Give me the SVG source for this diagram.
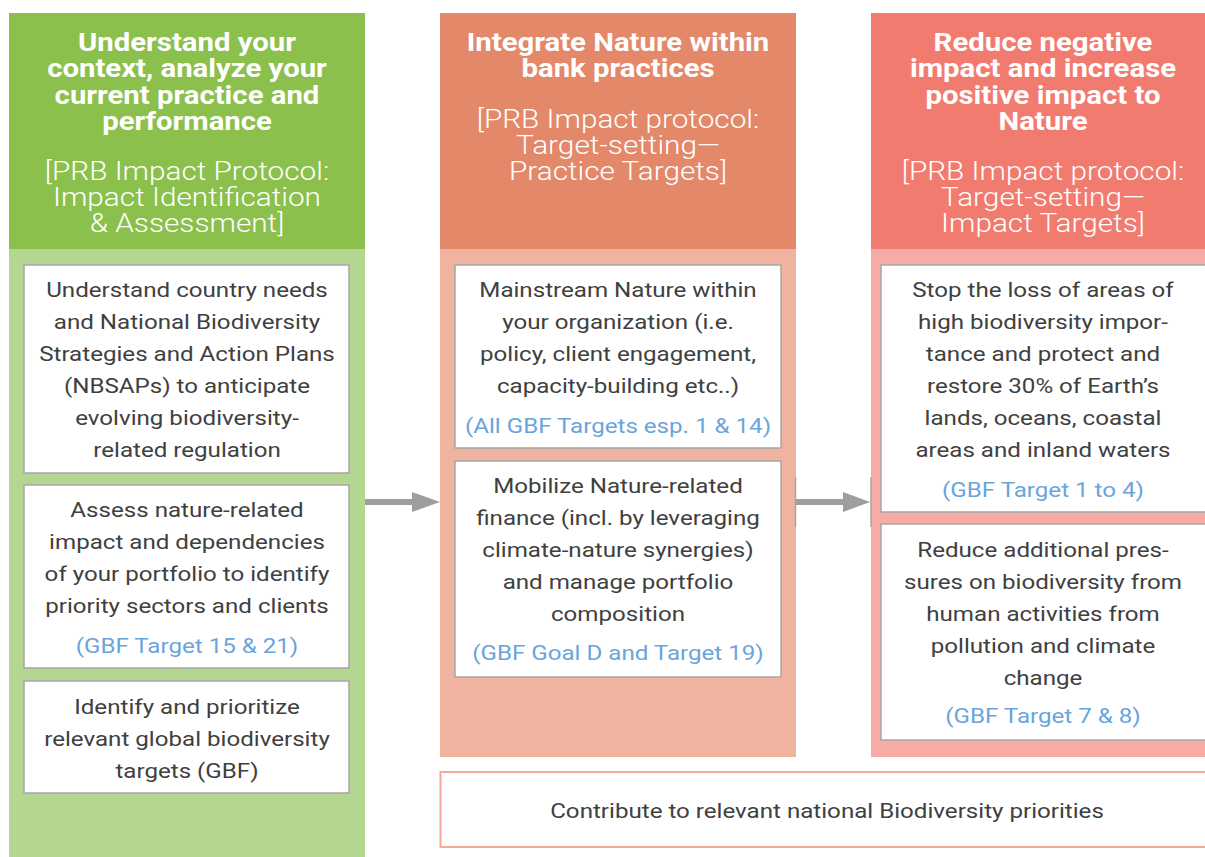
<svg xmlns="http://www.w3.org/2000/svg" width="1205" height="857" viewBox="0 0 1205 857">
  <defs>
    <style>
      .title { font-family: Roboto, "Liberation Sans", sans-serif; font-weight: 700; font-size: 25.5px; fill: #ffffff; text-anchor: middle; }
      .proto { font-family: Roboto, "Liberation Sans", sans-serif; font-weight: 300; font-size: 25px; fill: #ffffff; text-anchor: middle; }
      .body { font-family: Roboto, "Liberation Sans", sans-serif; font-weight: 400; font-size: 21px; fill: #404040; text-anchor: middle; }
      .ref { font-family: Roboto, "Liberation Sans", sans-serif; font-weight: 400; font-size: 21px; fill: #6aa4dc; text-anchor: middle; }
      .card { fill: #ffffff; stroke: #a6a6a6; stroke-width: 1.5; }
      .shaft { stroke: #9e9e9e; stroke-width: 6; fill: none; }
      .head { fill: #9e9e9e; }
      .tick { stroke: #a6a6a6; stroke-width: 1.5; }
    </style>
  </defs>

  <rect x="0" y="0" width="1205" height="857" fill="#ffffff"/>

  <!-- Column 1: context and analysis -->
  <g id="col-understand">
    <rect x="9" y="249" width="356" height="608" fill="#b5d690"/>
    <rect x="9" y="13" width="356" height="236" fill="#8bc04c"/>
    <g transform="translate(187 0) scale(1.15 1)">
      <text class="title" x="0" y="51">Understand your</text>
      <text class="title" x="0" y="77">context, analyze your</text>
      <text class="title" x="0" y="104">current practice and</text>
      <text class="title" x="0" y="130">performance</text>
    </g>
    <g transform="translate(187 0) scale(1.19 1)">
      <text class="proto" x="0" y="180">[PRB Impact Protocol:</text>
      <text class="proto" x="0" y="206">Impact Identification</text>
      <text class="proto" x="0" y="232">&amp; Assessment]</text>
    </g>
  </g>

  <g id="node-country-needs">
    <rect class="card" x="24" y="265" width="325" height="208"/>
    <g transform="translate(187 0) scale(1.15 1)">
      <text class="body" x="0" y="297">Understand country needs</text>
      <text class="body" x="0" y="329">and National Biodiversity</text>
      <text class="body" x="0" y="361">Strategies and Action Plans</text>
      <text class="body" x="0" y="393">(NBSAPs) to anticipate</text>
      <text class="body" x="0" y="425">evolving biodiversity-</text>
      <text class="body" x="0" y="457">related regulation</text>
    </g>
  </g>

  <g id="node-assess">
    <rect class="card" x="24" y="485" width="325" height="183"/>
    <g transform="translate(187 0) scale(1.15 1)">
      <text class="body" x="0" y="517">Assess nature-related</text>
      <text class="body" x="0" y="549">impact and dependencies</text>
      <text class="body" x="0" y="581">of your portfolio to identify</text>
      <text class="body" x="0" y="613">priority sectors and clients</text>
      <text class="ref" x="0" y="653">(GBF Target 15 &amp; 21)</text>
    </g>
  </g>

  <g id="node-identify">
    <rect class="card" x="24" y="681" width="325" height="112"/>
    <g transform="translate(187 0) scale(1.15 1)">
      <text class="body" x="0" y="714">Identify and prioritize</text>
      <text class="body" x="0" y="746">relevant global biodiversity</text>
      <text class="body" x="0" y="778">targets (GBF)</text>
    </g>
  </g>

  <!-- Column 2: practice targets -->
  <g id="col-integrate">
    <rect x="440" y="249" width="356" height="508" fill="#f0b3a0"/>
    <rect x="440" y="13" width="356" height="236" fill="#e4886a"/>
    <g transform="translate(618 0) scale(1.15 1)">
      <text class="title" x="0" y="51">Integrate Nature within</text>
      <text class="title" x="0" y="77">bank practices</text>
    </g>
    <g transform="translate(618 0) scale(1.19 1)">
      <text class="proto" x="0" y="128">[PRB Impact protocol:</text>
      <text class="proto" x="0" y="154">Target-setting—</text>
      <text class="proto" x="0" y="180">Practice Targets]</text>
    </g>
  </g>

  <g id="node-mainstream">
    <rect class="card" x="455" y="265" width="326" height="183"/>
    <g transform="translate(618 0) scale(1.15 1)">
      <text class="body" x="0" y="297">Mainstream Nature within</text>
      <text class="body" x="0" y="329">your organization (i.e.</text>
      <text class="body" x="0" y="361">policy, client engagement,</text>
      <text class="body" x="0" y="393">capacity-building etc..)</text>
      <text class="ref" x="0" y="433">(All GBF Targets esp. 1 &amp; 14)</text>
    </g>
  </g>

  <g id="node-mobilize">
    <rect class="card" x="455" y="461" width="326" height="216"/>
    <g transform="translate(618 0) scale(1.15 1)">
      <text class="body" x="0" y="493">Mobilize Nature-related</text>
      <text class="body" x="0" y="525">finance (incl. by leveraging</text>
      <text class="body" x="0" y="557">climate-nature synergies)</text>
      <text class="body" x="0" y="589">and manage portfolio</text>
      <text class="body" x="0" y="621">composition</text>
      <text class="ref" x="0" y="660">(GBF Goal D and Target 19)</text>
    </g>
  </g>

  <!-- Column 3: impact targets -->
  <g id="col-reduce">
    <rect x="871" y="249" width="344" height="508" fill="#f6aca5"/>
    <rect x="871" y="13" width="344" height="236" fill="#f27b6f"/>
    <g transform="translate(1043 0) scale(1.15 1)">
      <text class="title" x="0" y="51">Reduce negative</text>
      <text class="title" x="0" y="77">impact and increase</text>
      <text class="title" x="0" y="104">positive impact to</text>
      <text class="title" x="0" y="130">Nature</text>
    </g>
    <g transform="translate(1043 0) scale(1.19 1)">
      <text class="proto" x="0" y="180">[PRB Impact protocol:</text>
      <text class="proto" x="0" y="206">Target-setting—</text>
      <text class="proto" x="0" y="232">Impact Targets]</text>
    </g>
  </g>

  <g id="node-stop-loss">
    <rect class="card" x="881" y="265" width="334" height="247"/>
    <g transform="translate(1043 0) scale(1.15 1)">
      <text class="body" x="0" y="297">Stop the loss of areas of</text>
      <text class="body" x="0" y="329">high biodiversity impor-</text>
      <text class="body" x="0" y="361">tance and protect and</text>
      <text class="body" x="0" y="393">restore 30% of Earth’s</text>
      <text class="body" x="0" y="425">lands, oceans, coastal</text>
      <text class="body" x="0" y="457">areas and inland waters</text>
      <text class="ref" x="0" y="497">(GBF Target 1 to 4)</text>
    </g>
  </g>

  <g id="node-pressures">
    <rect class="card" x="881" y="524" width="334" height="216"/>
    <g transform="translate(1043 0) scale(1.15 1)">
      <text class="body" x="0" y="557">Reduce additional pres-</text>
      <text class="body" x="0" y="589">sures on biodiversity from</text>
      <text class="body" x="0" y="621">human activities from</text>
      <text class="body" x="0" y="653">pollution and climate</text>
      <text class="body" x="0" y="685">change</text>
      <text class="ref" x="0" y="723">(GBF Target 7 &amp; 8)</text>
    </g>
  </g>

  <!-- Bottom band -->
  <g id="node-national">
    <rect x="440.5" y="772" width="780" height="75" fill="#ffffff" stroke="#f3a898" stroke-width="2"/>
    <g transform="translate(827 0) scale(1.15 1)">
      <text class="body" x="0" y="818">Contribute to relevant national Biodiversity priorities</text>
    </g>
  </g>

  <!-- Connectors -->
  <g id="connectors">
    <line class="shaft" x1="365" y1="502" x2="413" y2="502"/>
    <polygon class="head" points="412,492 440,502 412,512"/>
    <line class="tick" x1="795.5" y1="477" x2="795.5" y2="527"/>
    <line class="tick" x1="871" y1="477" x2="871" y2="527"/>
    <line class="shaft" x1="796" y1="502" x2="844" y2="502"/>
    <polygon class="head" points="843,492 870,502 843,512"/>
  </g>
</svg>
